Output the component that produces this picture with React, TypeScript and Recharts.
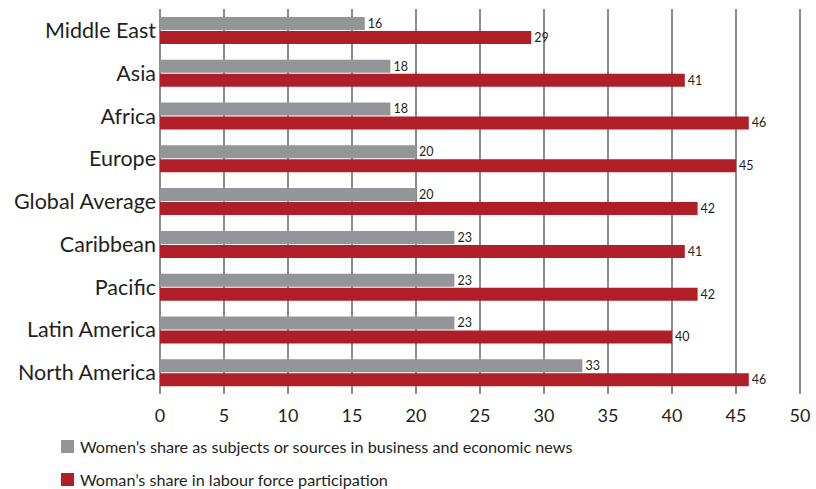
import React from 'react';
import { BarChart, Bar, XAxis, YAxis, CartesianGrid, LabelList } from 'recharts';

const regions = [
  'Middle East',
  'Asia',
  'Africa',
  'Europe',
  'Global Average',
  'Caribbean',
  'Pacific',
  'Latin America',
  'North America',
];
const newsShare = [16, 18, 18, 20, 20, 23, 23, 23, 33];
const labourShare = [29, 41, 46, 45, 42, 41, 42, 40, 46];
const xTicks = [0, 5, 10, 15, 20, 25, 30, 35, 40, 45, 50];

const data = regions.map((name, i) => ({
  name,
  news: newsShare[i],
  labour: labourShare[i],
}));

const FONT = 'Lato, "Open Sans", sans-serif';

const series = [
  { key: 'news', color: '#939598', label: "Women\u2019s share as subjects or sources in business and economic news" },
  { key: 'labour', color: '#B01E28', label: "Woman\u2019s share in labour force participation" },
];

// legend sits under the chart, drawn as plain html
const ChartLegend = () => (
  <div style={{ position: 'absolute', left: 61, top: 430, fontFamily: FONT }}>
    {series.map((s) => (
      <div key={s.key} style={{ display: 'flex', alignItems: 'center', height: 33 }}>
        <span style={{ width: 13, height: 13, background: s.color, display: 'inline-block', marginRight: 6 }} />
        <span style={{ fontSize: 16.2, lineHeight: '18px', color: '#231f20' }}>{s.label}</span>
      </div>
    ))}
  </div>
);

export default function App() {
  return (
    <div style={{ position: 'absolute', left: 0, top: 0, width: 816, height: 489, background: '#fff' }}>
      <BarChart
        width={816}
        height={489}
        data={data}
        layout="vertical"
        margin={{ top: 9, right: 16, left: 0, bottom: 65 }}
        barGap={1}
        barCategoryGap={8}
      >
        <CartesianGrid horizontal={false} stroke="#666" strokeWidth={1.5} />
        <XAxis
          type="number"
          domain={[0, 50]}
          ticks={xTicks}
          height={30}
          tickLine={false}
          axisLine={false}
          tick={{ fontSize: 18, fill: '#231f20', fontFamily: FONT }}
          tickMargin={9}
        />
        <YAxis
          type="category"
          dataKey="name"
          width={160}
          tickLine={false}
          axisLine={false}
          tickSize={0}
          tick={{ fontSize: 21.5, fill: '#231f20', fontFamily: FONT }}
          tickMargin={4}
        />
        {series.map((s) => (
          <Bar key={s.key} dataKey={s.key} fill={s.color} barSize={13} isAnimationActive={false}>
            <LabelList
              dataKey={s.key}
              position="right"
              offset={3}
              style={{ fontSize: 12.5, fill: '#231f20', fontFamily: FONT }}
            />
          </Bar>
        ))}
      </BarChart>
      <ChartLegend />
    </div>
  );
}
